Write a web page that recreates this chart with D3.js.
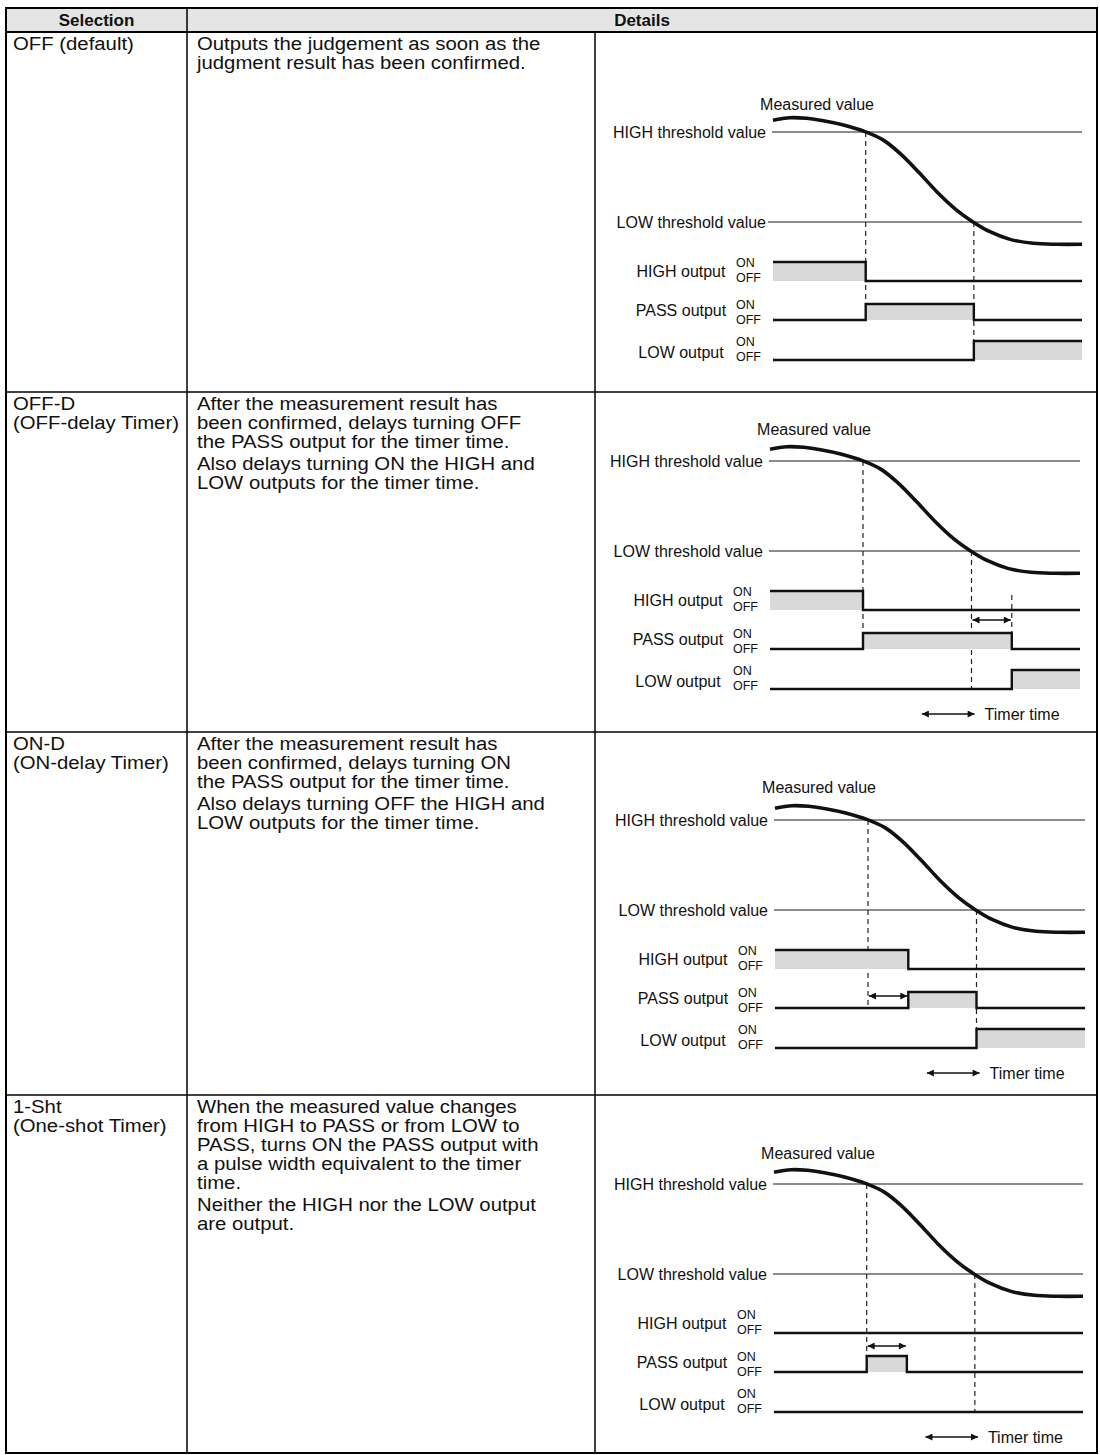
<!DOCTYPE html>
<html><head><meta charset="utf-8">
<script src="https://cdn.jsdelivr.net/npm/d3@7"></script>
<style>
body{margin:0;background:#fff;}
svg text{font-family:"Liberation Sans",Arial,Helvetica,sans-serif;fill:#111;}
</style></head><body>
<svg id="c" width="1100" height="1455"></svg>
<script>
// ---------- data ----------
const headers = ["Selection", "Details"];
const selections = [["OFF (default)"], ["OFF-D", "(OFF-delay Timer)"], ["ON-D", "(ON-delay Timer)"], ["1-Sht", "(One-shot Timer)"]];
const details = [
  [["Outputs the judgement as soon as the", "judgment result has been confirmed."]],
  [["After the measurement result has", "been confirmed, delays turning OFF", "the PASS output for the timer time."], ["Also delays turning ON the HIGH and", "LOW outputs for the timer time."]],
  [["After the measurement result has", "been confirmed, delays turning ON", "the PASS output for the timer time."], ["Also delays turning OFF the HIGH and", "LOW outputs for the timer time."]],
  [["When the measured value changes", "from HIGH to PASS or from LOW to", "PASS, turns ON the PASS output with", "a pulse width equivalent to the timer", "time."], ["Neither the HIGH nor the LOW output", "are output."]]
];
// measured value (time 0..100; LOW threshold = 0, HIGH threshold = 100)
const curveTime  = [0,   5.5, 10.9, 16.3, 22.8, 29.8, 35.7, 41.1, 47,   53,   59.4, 64.6, 70.2,  76.7,  84.2,  91.8,  100];
const curveValue = [113, 115.9, 115.2, 112.6, 107.8, 100.4, 91, 76.3, 55.9, 33.7, 13.3, 0.4, -10.8, -19.3, -23.7, -24.8, -24.8];
const thresholdHigh = 100, thresholdLow = 0;
const thresholdLabels = ["HIGH threshold value", "LOW threshold value"];
const measuredLabel = "Measured value";
const outputNames = ["HIGH output", "PASS output", "LOW output"];
const stateLabels = ["ON", "OFF"];
// ON intervals per mode (OFF, OFF-D, ON-D, 1-Sht)
const onHigh = [[[0, 30]], [[0, 30]], [[0, 43]], []];
const onPass = [[[30, 65]], [[30, 78]], [[43, 65]], [[30, 43]]];
const onLow = [[[65, 100]], [[78, 100]], [[65, 100]], []];
const crossHigh = 30, crossLow = 65;
const timerSpans = [null, [65, 78], [30, 43], [30, 43]];
const legendSpan = [49, 66];
const legendLabel = "Timer time";

// ---------- layout ----------
const T = {left: 6, right: 1097, c1: 187, c2: 595, top: 8, head: 32, rows: [32, 392, 732, 1095, 1453]};
const panels = [
  {y0: 132, x0: 773, x1: 1082, mdy: -28, timerDy: null, legend: false},
  {y0: 461, x0: 770, x1: 1080, mdy: -32, timerDy: 159, legend: true},
  {y0: 820, x0: 775, x1: 1085, mdy: -33, timerDy: 176, legend: true},
  {y0: 1184, x0: 774, x1: 1083, mdy: -31, timerDy: 162, legend: true}
];
const outRows = [{on: 130, off: 149, lab: 139}, {on: 172, off: 188, lab: 178}, {on: 209, off: 228, lab: 220}];

const svg = d3.select("#c");
const defs = svg.append("defs");
defs.append("marker").attr("id", "ah").attr("viewBox", "0 0 10 10").attr("refX", 10).attr("refY", 5)
  .attr("markerWidth", 11).attr("markerHeight", 7).attr("markerUnits", "userSpaceOnUse").attr("orient", "auto-start-reverse")
  .append("path").attr("d", "M0,0 L10,5 L0,10 z").attr("fill", "#111");

// ---------- table ----------
svg.append("rect").attr("x", T.left).attr("y", T.top).attr("width", T.right - T.left).attr("height", T.head - T.top).attr("fill", "#e4e4e4");
const hx = [(T.left + T.c1) / 2, (T.c1 + T.right) / 2];
svg.selectAll("text.hd").data(headers).join("text").attr("class", "hd")
  .attr("x", (d, i) => hx[i]).attr("y", (T.top + T.head) / 2 + 6).attr("text-anchor", "middle")
  .attr("font-size", 17).attr("font-weight", "bold").text(d => d);

const grid = svg.append("g").attr("stroke", "#000").attr("fill", "none");
T.rows.slice(1, 4).forEach(y => grid.append("line").attr("x1", T.left).attr("x2", T.right).attr("y1", y).attr("y2", y).attr("stroke-width", 1.5));
grid.append("line").attr("x1", T.left).attr("x2", T.right).attr("y1", T.head).attr("y2", T.head).attr("stroke-width", 2);
grid.append("line").attr("x1", T.c1).attr("x2", T.c1).attr("y1", T.top).attr("y2", T.rows[4]).attr("stroke-width", 1.5);
grid.append("line").attr("x1", T.c2).attr("x2", T.c2).attr("y1", T.head).attr("y2", T.rows[4]).attr("stroke-width", 1.5);
grid.append("rect").attr("x", T.left).attr("y", T.top).attr("width", T.right - T.left).attr("height", T.rows[4] - T.top).attr("stroke-width", 2);

const LH = 19, FS = 18, SX = 1.13;
selections.forEach((lines, r) => {
  const t = svg.append("text").attr("font-size", FS).attr("transform", `translate(13,0) scale(${SX},1)`);
  lines.forEach((s, i) => t.append("tspan").attr("x", 0).attr("y", T.rows[r] + 18 + i * LH).text(s));
});
details.forEach((paras, r) => {
  const t = svg.append("text").attr("font-size", FS).attr("transform", `translate(197,0) scale(${SX},1)`);
  let y = T.rows[r] + 18;
  paras.forEach((lines, p) => {
    if (p > 0) y += 3;
    lines.forEach(s => { t.append("tspan").attr("x", 0).attr("y", y).text(s); y += LH; });
  });
});

// ---------- timing diagrams ----------
function stepPoints(iv) {
  const pts = [[0, iv.length && iv[0][0] === 0 ? 1 : 0]];
  iv.forEach(([a, b]) => { if (a > 0) pts.push([a, 1]); if (b < 100) pts.push([b, 0]); });
  pts.push([100, pts[pts.length - 1][1]]);
  return pts;
}
const outputs = [onHigh, onPass, onLow];

panels.forEach((P, m) => {
  const g = svg.append("g");
  const x = d3.scaleLinear().domain([0, 100]).range([P.x0, P.x1]);
  const y = d3.scaleLinear().domain([thresholdLow, thresholdHigh]).range([P.y0 + 90, P.y0]);

  // threshold lines + labels
  [thresholdHigh, thresholdLow].forEach((v, i) => {
    g.append("line").attr("x1", P.x0 - (m === 0 && i === 1 ? 5 : 1)).attr("x2", P.x1).attr("y1", y(v)).attr("y2", y(v))
      .attr("stroke", "#1a1a1a").attr("stroke-width", 1.2);
    g.append("text").attr("x", P.x0 - 7).attr("y", y(v) + 5.5).attr("text-anchor", "end").attr("font-size", 16).text(thresholdLabels[i]);
  });
  g.append("text").attr("x", P.x0 + 44).attr("y", P.y0 + P.mdy + 5.5).attr("text-anchor", "middle").attr("font-size", 16).text(measuredLabel);

  // dashed guides
  const dash = (t, ya, yb) => g.append("line").attr("x1", x(t)).attr("x2", x(t)).attr("y1", ya).attr("y2", yb)
    .attr("stroke", "#222").attr("stroke-width", 1.2).attr("stroke-dasharray", "5,4");
  dash(crossHigh, y(thresholdHigh), P.y0 + outRows[1].off);
  dash(crossLow, y(thresholdLow), P.y0 + outRows[2].off);
  if (m === 1) dash(timerSpans[1][1], P.y0 + outRows[0].on + 4, P.y0 + outRows[1].on);

  // outputs
  outputs.forEach((arr, k) => {
    const R = outRows[k];
    const pts = stepPoints(arr[m]);
    const yy = s => P.y0 + (s ? R.on : R.off);
    g.append("path").datum(pts).attr("fill", "#d9d9d9")
      .attr("d", d3.area().x(d => x(d[0])).y0(P.y0 + R.off).y1(d => yy(d[1])).curve(d3.curveStepAfter));
    g.append("path").datum(pts).attr("fill", "none").attr("stroke", "#111").attr("stroke-width", 2.4)
      .attr("d", d3.line().x(d => x(d[0])).y(d => yy(d[1])).curve(d3.curveStepAfter));
    g.append("text").attr("x", P.x0 - 92).attr("y", P.y0 + R.lab + 6).attr("text-anchor", "middle").attr("font-size", 16).text(outputNames[k]);
    stateLabels.forEach((s, j) => g.append("text").attr("x", P.x0 - 37).attr("y", P.y0 + R.on + 5 + j * 15)
      .attr("font-size", 12.5).text(s));
  });

  // measured value curve
  g.append("path").datum(curveTime.map((t, i) => [t, curveValue[i]])).attr("fill", "none").attr("stroke", "#111").attr("stroke-width", 3.6)
    .attr("d", d3.line().x(d => x(d[0])).y(d => y(d[1])).curve(d3.curveCatmullRom.alpha(0.5)));

  // timer arrows
  if (timerSpans[m]) {
    g.append("line").attr("x1", x(timerSpans[m][0]) + 1).attr("x2", x(timerSpans[m][1]) - 1)
      .attr("y1", P.y0 + P.timerDy).attr("y2", P.y0 + P.timerDy).attr("stroke", "#111").attr("stroke-width", 1.6)
      .attr("marker-start", "url(#ah)").attr("marker-end", "url(#ah)");
  }
  if (P.legend) {
    const ly = P.y0 + 253;
    g.append("line").attr("x1", x(legendSpan[0])).attr("x2", x(legendSpan[1])).attr("y1", ly).attr("y2", ly)
      .attr("stroke", "#111").attr("stroke-width", 1.6).attr("marker-start", "url(#ah)").attr("marker-end", "url(#ah)");
    g.append("text").attr("x", x(legendSpan[1]) + 10).attr("y", ly + 5.5).attr("font-size", 16).text(legendLabel);
  }
});
</script>
</body></html>
